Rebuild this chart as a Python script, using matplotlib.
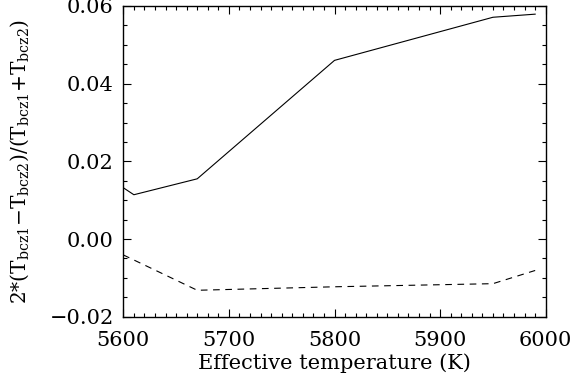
import numpy as np
import matplotlib
matplotlib.use("Agg")
import matplotlib.pyplot as plt
from matplotlib.ticker import MultipleLocator, FuncFormatter

plt.rcParams['font.family'] = ['DejaVu Serif']
plt.rcParams['mathtext.fontset'] = 'dejavuserif'

# data
teff = [5600, 5610, 5670, 5800, 5950, 5990]
solid_ratio = [0.0132, 0.0114, 0.0155, 0.0460, 0.0571, 0.0579]
dashed_ratio = [-0.0041, -0.0054, -0.0132, -0.0123, -0.0115, -0.0081]

fig = plt.figure(figsize=(5.77, 3.87), dpi=100, facecolor='white')
ax = fig.add_axes([0.2137, 0.1817, 0.7321, 0.8028])

ax.plot(teff, solid_ratio, color='black', lw=0.8, ls='-')
ax.plot(teff, dashed_ratio, color='black', lw=0.8, ls=(0, (6, 5)))

ax.set_xlim(5600, 6000)
ax.set_ylim(-0.02, 0.06)
ax.xaxis.set_major_locator(MultipleLocator(100))
ax.xaxis.set_minor_locator(MultipleLocator(10))
ax.yaxis.set_major_locator(MultipleLocator(0.02))
ax.yaxis.set_minor_locator(MultipleLocator(0.005))
ax.yaxis.set_major_formatter(FuncFormatter(
    lambda v, pos: f'{v:.2f}'.replace('-', '\u2212') if abs(v) > 1e-9 else '0.00'))

ax.tick_params(which='both', direction='in', top=True, right=True,
               labelsize=15, width=0.8)
ax.tick_params(axis='y', pad=7)
ax.tick_params(axis='x', pad=10)
ax.tick_params(which='major', length=6)
ax.tick_params(which='minor', length=3)
for sp in ax.spines.values():
    sp.set_linewidth(1.0)

ax.set_xlabel('Effective temperature (K)', fontsize=15, labelpad=3)
ax.set_ylabel(r'$2$*$(\mathrm{T_{bcz1}}{-}\mathrm{T_{bcz2}})/(\mathrm{T_{bcz1}}{+}\mathrm{T_{bcz2}})$',
              fontsize=14.5, labelpad=13)

fig.savefig('out.png', dpi=100, facecolor='white')
